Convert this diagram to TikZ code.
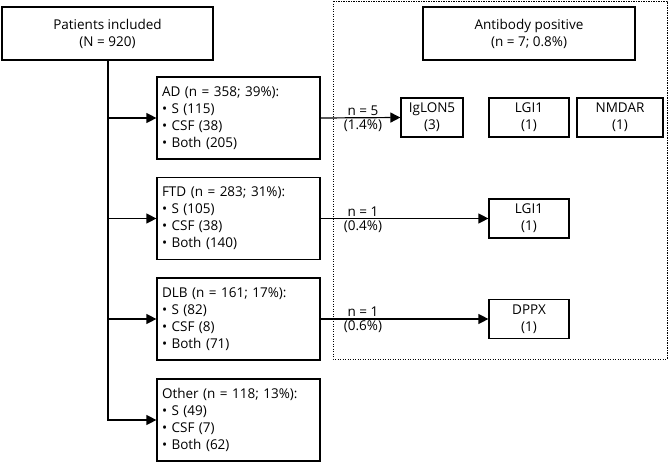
\documentclass[tikz,border=0pt]{standalone}
\usepackage{fontspec}
\setmainfont{Open Sans}
\usetikzlibrary{arrows.meta}
\begin{document}
\begin{tikzpicture}[x=1pt,y=-1pt,
  every node/.style={font=\fontsize{13.5}{17}\selectfont},
  box/.style={draw, line width=1.2pt, inner sep=0pt, align=center},
  dbox/.style={draw, line width=1.2pt, minimum width=163pt, minimum height=82pt, text width=153pt, inner xsep=5pt, inner ysep=0pt, align=left},
  abox/.style={box, minimum height=39pt},
  conn/.style={line width=1.2pt, -{Triangle[length=10pt,width=10pt]}},
  lbl/.style={inner sep=1pt}
]
\useasboundingbox (0,0) rectangle (669,463);
\draw[line width=0.9pt, dash pattern=on 1.3pt off 1.2pt] (333,1) rectangle (667,359);

\node[box, minimum width=211pt, minimum height=53pt] (pat) at (107.5,33.5) {Patients included\\(N = 920)};
\node[box, minimum width=212pt, minimum height=53pt] (ab) at (529,33.5) {Antibody positive\\(n = 7; 0.8\%)};

\node[dbox] (ad) at (238.5,118) {AD (n = 358; 39\%):\\• S (115)\\• CSF (38)\\• Both (205)};
\node[dbox] (ftd) at (238.5,218.5) {FTD (n = 283; 31\%):\\• S (105)\\• CSF (38)\\• Both (140)};
\node[dbox] (dlb) at (238.5,319) {DLB (n = 161; 17\%):\\• S (82)\\• CSF (8)\\• Both (71)};
\node[dbox] (oth) at (238.5,420) {Other (n = 118; 13\%):\\• S (49)\\• CSF (7)\\• Both (62)};

\node[abox, minimum width=62pt] (iglon) at (432,117.5) {IgLON5\\(3)};
\node[abox, minimum width=80pt] (lgia) at (529,117.5) {LGI1\\(1)};
\node[abox, minimum width=86pt] (nmdar) at (620,117.5) {NMDAR\\(1)};
\node[abox, minimum width=80pt] (lgib) at (529,218.5) {LGI1\\(1)};
\node[abox, minimum width=80pt] (dppx) at (529,319) {DPPX\\(1)};

\draw[conn] (pat.south -| 108,0) |- (oth.west);
\coordinate (t1) at (108,118);
\coordinate (t2) at (108,218.5);
\coordinate (t3) at (108,319);
\draw[conn] (t1) -- (ad.west);
\draw[conn] (t2) -- (ftd.west);
\draw[conn] (t3) -- (dlb.west);

\draw[conn] (ad.east) -- (iglon.west);
\draw[conn] (ftd.east) -- (lgib.west);
\draw[conn] (dlb.east) -- (dppx.west);

\node[lbl, anchor=south] (l1a) at (363,117) {n = 5};
\node[lbl, anchor=north] (l1b) at (363,119) {(1.4\%)};
\node[lbl, anchor=south] (l2a) at (363,217.5) {n = 1};
\node[lbl, anchor=north] (l2b) at (363,219.5) {(0.4\%)};
\node[lbl, anchor=south] (l3a) at (363,318) {n = 1};
\node[lbl, anchor=north] (l3b) at (363,320) {(0.6\%)};
\end{tikzpicture}
\end{document}
